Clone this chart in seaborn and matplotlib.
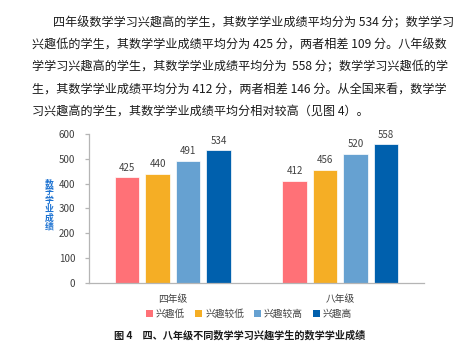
import numpy as np
import pandas as pd
import seaborn as sns
import matplotlib.pyplot as plt
from matplotlib.patches import Patch

# data
grades = ['四年级', '八年级']
levels = ['兴趣低', '兴趣较低', '兴趣较高', '兴趣高']
scores_g4 = [425, 440, 491, 534]
scores_g8 = [412, 456, 520, 558]
colors = ['#FF7177', '#F5AE25', '#66A1D1', '#0060AD']

paragraph = [
    '四年级数学学习兴趣高的学生，其数学学业成绩平均分为 534 分；数学学习',
    '兴趣低的学生，其数学学业成绩平均分为 425 分，两者相差 109 分。八年级数',
    '学学习兴趣高的学生，其数学学业成绩平均分为  558 分；数学学习兴趣低的学',
    '生，其数学学业成绩平均分为 412 分，两者相差 146 分。从全国来看，数学学',
    '习兴趣高的学生，其数学学业成绩平均分相对较高（见图 4）。',
]
caption = '图 4　四、八年级不同数学学习兴趣学生的数学学业成绩'
ylabel = '数学学业成绩'

df = pd.DataFrame({
    '年级': np.repeat(grades, len(levels)),
    '兴趣': levels * len(grades),
    '成绩': scores_g4 + scores_g8,
})

sns.set_style('white')
plt.rcParams['font.family'] = ['Noto Sans CJK SC', 'DejaVu Sans']

W, H = 466, 351
fig = plt.figure(figsize=(W / 100, H / 100), dpi=100)
ax = fig.add_axes([89 / W, 1 - 283 / H, 335 / W, 149 / H])

sns.barplot(data=df, x='年级', y='成绩', hue='兴趣', hue_order=levels,
            palette=colors, saturation=1, width=0.728, gap=0.21,
            edgecolor='white', linewidth=0.5, legend=False, ax=ax)

for cont in ax.containers:
    ax.bar_label(cont, padding=3.5, fontsize=7, color='#404040')

ax.set_ylim(0, 600)
ax.set_yticks(range(0, 601, 100))
ax.set_xlabel('')
ax.set_ylabel('')
for s in ['top', 'right']:
    ax.spines[s].set_visible(False)
for s in ['left', 'bottom']:
    ax.spines[s].set_color('#B5B5B5')
    ax.spines[s].set_linewidth(0.9)
ax.tick_params(axis='y', length=3, width=0.9, color='#B5B5B5', labelsize=7,
               labelcolor='#404040', pad=7, left=True)
ax.tick_params(axis='x', length=0, labelsize=7, labelcolor='#404040', pad=8)

# stacked vertical axis title
fig.text(49 / W, 1 - 205 / H, '\n'.join(ylabel), ha='center', va='center',
         fontsize=6.4, fontweight='bold', color='#1E73D2', linespacing=0.95)

handles = [Patch(facecolor=c, edgecolor='none') for c in colors]
fig.legend(handles, levels, loc='center', bbox_to_anchor=(249 / W, 1 - 314 / H),
           ncol=4, frameon=False, fontsize=7, handlelength=0.75, handleheight=0.75,
           handletextpad=0.3, columnspacing=1.0, labelcolor='#404040')

fig.text(240 / W, 1 - 335 / H, caption, ha='center', va='center',
         fontsize=7.3, fontweight='bold', color='#1A1A1A')

line_y = [23, 45, 67, 89, 111]
for i, (line, y) in enumerate(zip(paragraph, line_y)):
    x0 = 53 if i == 0 else 32
    fig.text(x0 / W, 1 - y / H, line, ha='left', va='center',
             fontsize=8.7, color='#1A1A1A')

fig.savefig('out.png', dpi=100)
